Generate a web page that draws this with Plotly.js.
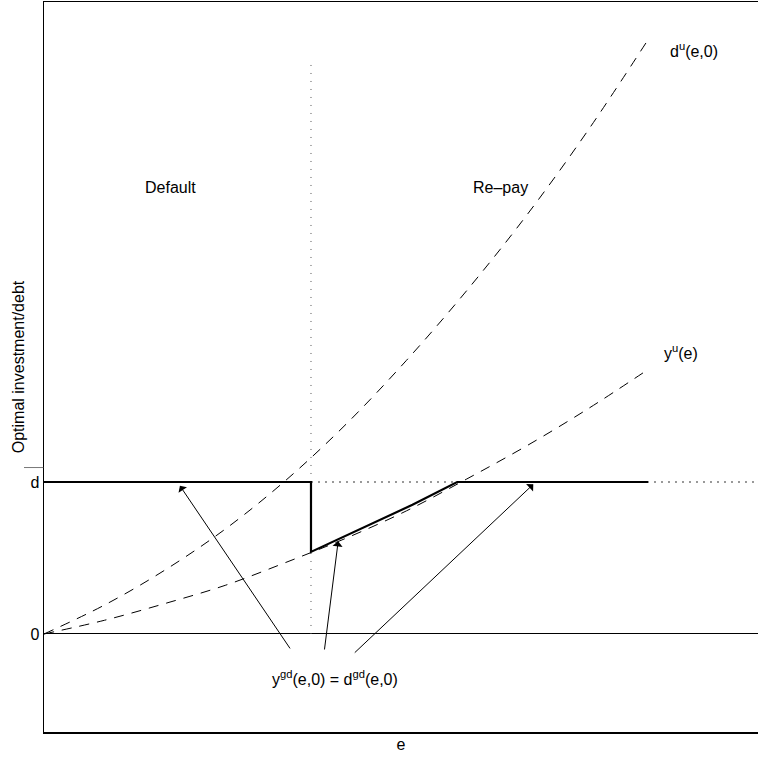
<!DOCTYPE html>
<html>
<head>
<meta charset="utf-8">
<script src="https://cdn.plot.ly/plotly-3.0.1.min.js"></script>
<style>html,body{margin:0;padding:0;background:#fff;}#chart{width:758px;height:764px;}</style>
</head>
<body>
<div id="chart"></div>
<script>
// e grid (horizontal axis, endowment) and curves
var eGrid = [0, 0.1, 0.2, 0.3, 0.4, 0.5, 0.6, 0.7, 0.8, 0.9, 1.0];
var duValues = [0, 0.19, 0.42, 0.69, 1.01, 1.38, 1.80, 2.26, 2.76, 3.31, 3.91];   // d^u(e,0)
var yuValues = [0, 0.09, 0.20, 0.32, 0.47, 0.63, 0.81, 1.02, 1.24, 1.48, 1.74];   // y^u(e)

// y^gd(e,0) = d^gd(e,0): solid path
var gdE = [0, 0.442, 0.442, 0.53, 0.61, 0.684, 1.0];
var gdY = [1, 1, 0.54, 0.70, 0.85, 1, 1];

var dBar = 1;          // debt level d̄
var eStar = 0.442;     // default / re-pay threshold
var eMax = 1.182;

var yTickVals = [0, dBar];
var yTickText = ['0', 'd'];

// arrows: [tail e, tail y], [head e, head y]
var arrowTails = [[0.409, -0.105], [0.464, -0.112], [0.512, -0.132]];
var arrowHeads = [[0.225, 0.975], [0.487, 0.61], [0.810, 0.985]];

var FONT = '"Liberation Sans Narrow", "Liberation Sans", Arial, sans-serif';

var traces = [
  {x: eGrid, y: duValues, mode: 'lines', line: {color: '#000', width: 1, dash: '10px,8px', shape: 'spline'}, hoverinfo: 'skip', name: 'd^u'},
  {x: eGrid, y: yuValues, mode: 'lines', line: {color: '#000', width: 1, dash: '10px,8px', shape: 'spline'}, hoverinfo: 'skip', name: 'y^u'},
  {x: [eStar, eStar], y: [0, 3.76], mode: 'lines', line: {color: '#555', width: 1, dash: '1px,7px'}, hoverinfo: 'skip'},
  {x: [eStar, eMax], y: [dBar, dBar], mode: 'lines', line: {color: '#777', width: 1.3, dash: '2px,5px'}, hoverinfo: 'skip'},
  {x: gdE, y: gdY, mode: 'lines', line: {color: '#000', width: 2.2}, hoverinfo: 'skip', name: 'gd'}
];

var annotations = [
  {x: 0.209, y: 2.94, text: 'Default', showarrow: false},
  {x: 0.755, y: 2.94, text: 'Re\u2013pay', showarrow: false},
  {x: 1.033, y: 3.84, text: 'd<sup>u</sup>(e,0)', showarrow: false, xanchor: 'left'},
  {x: 1.023, y: 1.855, text: 'y<sup>u</sup>(e)', showarrow: false, xanchor: 'left'},
  {x: 0.482, y: -0.29, text: 'y<sup>gd</sup>(e,0) = d<sup>gd</sup>(e,0)', showarrow: false}
];
for (var i = 0; i < arrowTails.length; i++) {
  annotations.push({
    x: arrowHeads[i][0], y: arrowHeads[i][1], ax: arrowTails[i][0], ay: arrowTails[i][1],
    axref: 'x', ayref: 'y', text: '', showarrow: true, arrowhead: 1, arrowsize: 1.7, arrowwidth: 1, arrowcolor: '#000'
  });
}

var layout = {
  width: 758, height: 764,
  margin: {l: 44, r: 0, t: 2, b: 32},
  paper_bgcolor: '#fff', plot_bgcolor: '#fff',
  showlegend: false,
  font: {family: FONT, size: 16, color: '#000'},
  xaxis: {
    range: [0, eMax], showgrid: false, zeroline: false, showticklabels: false, ticks: '',
    showline: true, mirror: true, linecolor: '#000', linewidth: 1.5,
    title: {text: 'e', standoff: 6, font: {size: 16}}
  },
  yaxis: {
    range: [-0.645, 4.158], showgrid: false, zeroline: true, zerolinecolor: '#000', zerolinewidth: 1,
    tickvals: yTickVals, ticktext: yTickText, ticks: '', tickfont: {size: 16},
    showline: true, linecolor: '#000', linewidth: 1.5,
    title: {text: 'Optimal investment/debt', standoff: 2, font: {size: 16}}
  },
  shapes: [
    {type: 'line', xref: 'paper', yref: 'y', x0: -0.028, x1: -0.001, y0: dBar + 0.095, y1: dBar + 0.095, line: {color: '#777', width: 1}}
  ],
  annotations: annotations
};

Plotly.newPlot('chart', traces, layout, {displayModeBar: false, staticPlot: true});
</script>
</body>
</html>
